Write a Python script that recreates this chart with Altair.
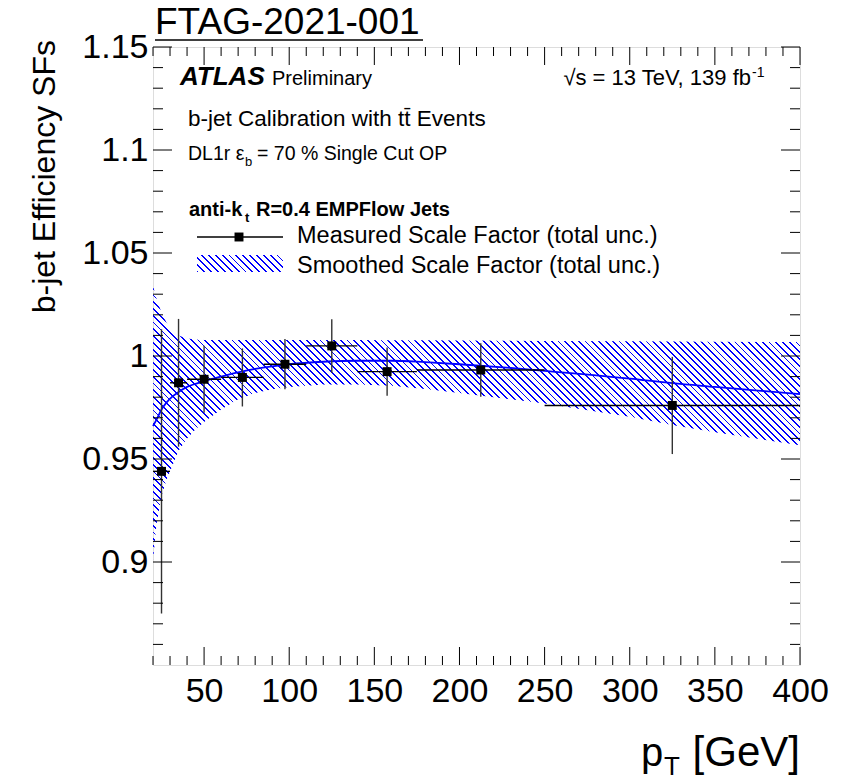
import math
import altair as alt
import pandas as pd

# ---------------- data ----------------
bin_lo = [20, 30, 40, 60, 85, 110, 140, 175, 250]
bin_hi = [30, 40, 60, 85, 110, 140, 175, 250, 400]
pt_center = [25, 35, 50, 72.5, 97.5, 125, 157.5, 212.5, 325]
sf_meas = [0.944, 0.987, 0.9887, 0.9896, 0.996, 1.0049, 0.9924, 0.9932, 0.976]
sf_err = [0.069, 0.031, 0.0163, 0.0141, 0.0122, 0.013, 0.0117, 0.013, 0.0236]

smooth_pt = [20, 22, 25, 28, 31, 35, 40, 45, 50, 60, 70, 80, 90, 100, 120,
             140, 160, 180, 200, 230, 250, 300, 325, 350, 400]
smooth_sf = [0.966, 0.969, 0.974, 0.9775, 0.980, 0.9825, 0.985, 0.9865, 0.9878,
             0.990, 0.992, 0.9937, 0.995, 0.996, 0.9972, 0.9977, 0.9977, 0.997,
             0.996, 0.9942, 0.9928, 0.989, 0.9868, 0.985, 0.9815]
smooth_up = [1.034, 1.028, 1.021, 1.016, 1.0125, 1.010, 1.0085, 1.008, 1.0078,
             1.0078, 1.0078, 1.0078, 1.0078, 1.0078, 1.0078, 1.0078, 1.0077,
             1.0076, 1.0075, 1.0074, 1.0073, 1.0071, 1.007, 1.0069, 1.0068]
smooth_dn = [0.901, 0.918, 0.932, 0.940, 0.946, 0.954, 0.960, 0.9645, 0.968,
             0.974, 0.979, 0.982, 0.9838, 0.985, 0.9862, 0.9862, 0.9855, 0.984,
             0.982, 0.979, 0.977, 0.9705, 0.9665, 0.963, 0.9567]

x_major = [50, 100, 150, 200, 250, 300, 350, 400]
x_minor = [v for v in range(20, 400, 10) if v % 50 != 0]
y_major = [0.9, 0.95, 1.0, 1.05, 1.1, 1.15]
y_minor = [round(0.85 + 0.01 * i, 2) for i in range(1, 30) if i % 5 != 0]

X_DOMAIN = [20, 400]
Y_DOMAIN = [0.85, 1.15]

# ---------------- layout ----------------
OX, OY = 153, 47          # plot origin in the page
W, H = 647, 618           # plot area
FONT = "Liberation Sans"

meas = pd.DataFrame({"pt": pt_center, "lo": bin_lo, "hi": bin_hi, "sf": sf_meas,
                     "ylo": [s - e for s, e in zip(sf_meas, sf_err)],
                     "yhi": [s + e for s, e in zip(sf_meas, sf_err)]})
smooth = pd.DataFrame({"pt": smooth_pt, "sf": smooth_sf, "up": smooth_up, "dn": smooth_dn})

xs = alt.Scale(domain=X_DOMAIN, nice=False, zero=False)
ys = alt.Scale(domain=Y_DOMAIN, nice=False, zero=False)


def hatch(wpx, hpx, period=4.8, frac=0.27, color="#0000ff"):
    r = hpx / wpx
    k = (1 + r) / (1 + r * r)
    span = (wpx + hpx) / math.sqrt(2)
    n = max(1, int(round(span / period)))
    clear = "rgba(255,255,255,0)"
    stops = []
    for i in range(n):
        a, b, c = i / n, (i + frac) / n, (i + 1) / n
        stops += [alt.GradientStop(offset=a, color=color),
                  alt.GradientStop(offset=b, color=color),
                  alt.GradientStop(offset=b, color=clear),
                  alt.GradientStop(offset=c, color=clear)]
    return alt.Gradient(gradient="linear", x1=0, y1=1, x2=k, y2=1 - k * r, stops=stops)


band_h = (max(smooth_up) - min(smooth_dn)) / (Y_DOMAIN[1] - Y_DOMAIN[0]) * H
band = alt.Chart(smooth).mark_area(fill=hatch(W, band_h), strokeWidth=0).encode(
    x=alt.X("pt:Q", scale=xs,
            axis=alt.Axis(values=x_major, ticks=False, domain=False, grid=False, title=None,
                          labelFont=FONT, labelFontSize=34, labelPadding=9, labelColor="black",
                          labelFlush=False, labelOverlap=False, format="d")),
    y=alt.Y("dn:Q", scale=ys,
            axis=alt.Axis(values=y_major, ticks=False, domain=False, grid=False, title=None,
                          labelFont=FONT, labelFontSize=34, labelPadding=5, labelColor="black",
                          labelFlush=False, labelOverlap=False, format="~g")),
    y2="up:Q",
)

line = alt.Chart(smooth).mark_line(color="#0000ff", strokeWidth=1.8, interpolate="monotone").encode(
    x=alt.X("pt:Q", scale=xs), y=alt.Y("sf:Q", scale=ys))

xerr = alt.Chart(meas).mark_rule(color="black", strokeWidth=1.4).encode(
    x=alt.X("lo:Q", scale=xs), x2="hi:Q", y=alt.Y("sf:Q", scale=ys))
yerr = alt.Chart(meas).mark_rule(color="#333333", strokeWidth=1.4).encode(
    x=alt.X("pt:Q", scale=xs), y=alt.Y("ylo:Q", scale=ys), y2="yhi:Q")
pts = alt.Chart(meas).mark_square(color="black", size=80, opacity=1).encode(
    x=alt.X("pt:Q", scale=xs), y=alt.Y("sf:Q", scale=ys))

# ---------------- inward ticks on all four sides ----------------
def xticks(vals, length):
    d = pd.DataFrame({"v": vals})
    bottom = alt.Chart(d).mark_rule(color="black", strokeWidth=1).encode(
        x=alt.X("v:Q", scale=xs), y=alt.value(H), y2=alt.value(H - length))
    top = alt.Chart(d).mark_rule(color="black", strokeWidth=1).encode(
        x=alt.X("v:Q", scale=xs), y=alt.value(0), y2=alt.value(length))
    return [bottom, top]


def yticks(vals, length):
    d = pd.DataFrame({"v": vals})
    left = alt.Chart(d).mark_rule(color="black", strokeWidth=1).encode(
        y=alt.Y("v:Q", scale=ys), x=alt.value(0), x2=alt.value(length))
    right = alt.Chart(d).mark_rule(color="black", strokeWidth=1).encode(
        y=alt.Y("v:Q", scale=ys), x=alt.value(W), x2=alt.value(W - length))
    return [left, right]


ticks = xticks(x_major, 18) + xticks(x_minor, 9) + yticks(y_major, 19) + yticks(y_minor, 10)

# ---------------- text helpers (page coordinates) ----------------
ONE = alt.Data(values=[{"k": 0}])


def txt(s, x, y, size, weight="normal", style="normal", align="left", angle=0, baseline="alphabetic"):
    props = dict(align=align, baseline=baseline, fontSize=size, fontWeight=weight,
                 fontStyle=style, font=FONT, color="black", text=s)
    if angle:
        props["angle"] = angle
    return alt.Chart(ONE).mark_text(**props).encode(x=alt.value(x - OX), y=alt.value(y - OY))


def hrule(x1, x2, y, width=1.4, color="black"):
    return alt.Chart(ONE).mark_rule(color=color, strokeWidth=width).encode(
        x=alt.value(x1 - OX), x2=alt.value(x2 - OX), y=alt.value(y - OY))


texts = [
    txt("FTAG-2021-001", 155, 34, 37),
    hrule(155, 423, 40, 1.6),
    txt("ATLAS", 180, 85, 26, weight="bold", style="italic"),
    txt("Preliminary", 272, 85, 20),
    txt("\u221as = 13 TeV, 139 fb", 751, 85, 22, align="right"),
    txt("-1", 752, 77, 14),
    txt("b-jet Calibration with t\u0074\u0304 Events", 188, 126, 22.5),
    txt("DL1r \u03b5", 188, 160, 19.5),
    txt("b", 245, 166, 13),
    txt("= 70 % Single Cut OP", 257, 160, 19.5),
    txt("anti-k", 189, 216, 20, weight="bold"),
    txt("t", 245, 222, 13, weight="bold"),
    txt("R=0.4 EMPFlow Jets", 256, 216, 20, weight="bold"),
    txt("Measured Scale Factor (total unc.)", 297, 243, 23.5),
    txt("Smoothed Scale Factor (total unc.)", 297, 273, 23.5),
    txt("b-jet Efficiency SFs", 45, 40, 32, align="right", angle=270, baseline="middle"),
    txt("[GeV]", 800, 766, 42, align="right"),
    txt("T", 664, 775, 26),
    txt("p", 641, 766, 40),
]

# legend symbols
leg_line = hrule(197, 283, 237, 1.4)
leg_pt = alt.Chart(ONE).mark_square(color="black", size=80, opacity=1).encode(
    x=alt.value(239 - OX), y=alt.value(237 - OY))
leg_box = alt.Chart(ONE).mark_rect(fill=hatch(86, 17), strokeWidth=0).encode(
    x=alt.value(197 - OX), x2=alt.value(283 - OX), y=alt.value(255 - OY), y2=alt.value(272 - OY))

chart = alt.layer(
    band, line, xerr, yerr, pts, *ticks, leg_line, leg_pt, leg_box, *texts
).properties(
    width=W, height=H,
    autosize=alt.AutoSizeParams(type="none"),
    padding={"left": OX, "top": OY, "right": 844 - OX - W, "bottom": 781 - OY - H},
).configure_view(stroke="black", strokeWidth=1.5).configure(background="white")

chart.save("out.html", embed_options={"renderer": "svg", "actions": False})
